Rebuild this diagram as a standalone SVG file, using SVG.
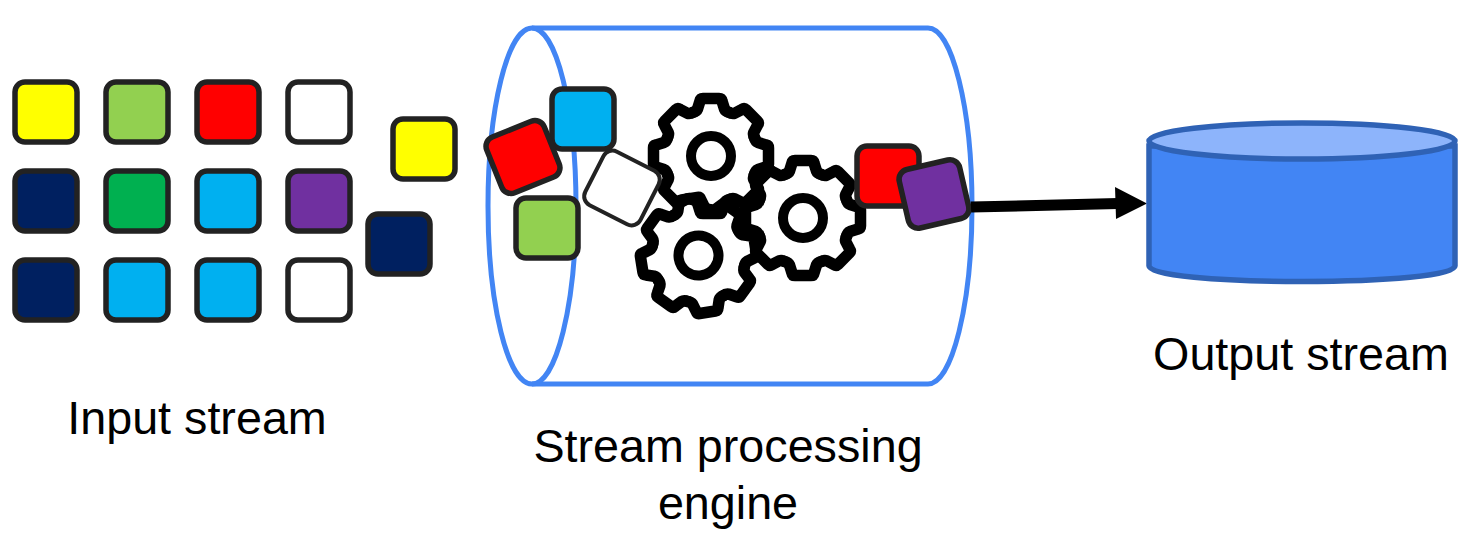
<svg xmlns="http://www.w3.org/2000/svg" xmlns:xlink="http://www.w3.org/1999/xlink" width="1465" height="557" viewBox="0 0 1465 557">
<style>
.sq{stroke:#222;stroke-width:5.500}
.t{font-family:"Liberation Sans",Arial,sans-serif;font-size:46.700px;fill:#000;text-anchor:middle}
.e{fill:none;stroke:#4285f4;stroke-width:5}
.g{fill:none;stroke:#000;stroke-width:11.500;stroke-linejoin:round;stroke-linecap:round}
</style>
<defs>
<rect id="s" x="-31" y="-30" width="62" height="60" rx="10"/>
<path id="tooth" d="M-18.500-43.500Q-14.500-44.500-13.500-47L-11-55Q-10.500-57.500-8-57.500H8Q10.500-57.500 11-55L13.500-47Q14.500-44.500 18.500-43.500"/>
<g id="gear">
<circle r="20" style="stroke-width:10"/>
<use xlink:href="#tooth"/><use xlink:href="#tooth" transform="rotate(45)"/><use xlink:href="#tooth" transform="rotate(90)"/><use xlink:href="#tooth" transform="rotate(135)"/><use xlink:href="#tooth" transform="rotate(180)"/><use xlink:href="#tooth" transform="rotate(225)"/><use xlink:href="#tooth" transform="rotate(270)"/><use xlink:href="#tooth" transform="rotate(315)"/>
</g>
</defs>
<g id="input-stream">
<use xlink:href="#s" class="sq" x="46" y="112" fill="#ffff00"/>
<use xlink:href="#s" class="sq" x="137" y="112" fill="#92d050"/>
<use xlink:href="#s" class="sq" x="228" y="112" fill="#ff0000"/>
<use xlink:href="#s" class="sq" x="319" y="112" fill="#ffffff"/>
<use xlink:href="#s" class="sq" x="46" y="201" fill="#002060"/>
<use xlink:href="#s" class="sq" x="137" y="201" fill="#00b050"/>
<use xlink:href="#s" class="sq" x="228" y="201" fill="#00b0f0"/>
<use xlink:href="#s" class="sq" x="319" y="201" fill="#7030a0"/>
<use xlink:href="#s" class="sq" x="46" y="290" fill="#002060"/>
<use xlink:href="#s" class="sq" x="137" y="290" fill="#00b0f0"/>
<use xlink:href="#s" class="sq" x="228" y="290" fill="#00b0f0"/>
<use xlink:href="#s" class="sq" x="319" y="290" fill="#ffffff"/>
<use xlink:href="#s" class="sq" x="424" y="149" fill="#ffff00"/>
<use xlink:href="#s" class="sq" x="399" y="244" fill="#002060"/>
</g>
<g id="engine">
<path class="e" d="M532 28H928C952 28 972 108 972 206S952 384 928 384H532"/>
<ellipse class="e" cx="532" cy="206" rx="44" ry="178"/>
</g>
<g id="gears">
<use xlink:href="#gear" class="g" transform="translate(711 156)"/>
<use xlink:href="#gear" class="g" transform="translate(803 218)"/>
<use xlink:href="#gear" class="g" transform="translate(698.500 255.500) rotate(-9)"/>
</g>
<g id="moving-items">
<use xlink:href="#s" class="sq" x="583" y="119" fill="#00b0f0"/>
<use xlink:href="#s" class="sq" x="547" y="228" fill="#92d050"/>
<use xlink:href="#s" class="sq" transform="translate(523 157) rotate(-22)" fill="#ff0000"/>
<use xlink:href="#s" class="sq" style="stroke-width:4" transform="translate(622 188) rotate(27)" fill="#ffffff"/>
<use xlink:href="#s" class="sq" x="888" y="176" fill="#ff0000"/>
<use xlink:href="#s" class="sq" transform="translate(934 194) rotate(-13)" fill="#7030a0"/>
</g>
<g id="connectors">
<path d="M971 207L1118 203.500" fill="none" stroke="#000" stroke-width="11"/>
<path d="M1115 187L1147 203.500L1116 219Z" fill="#000"/>
</g>
<g id="output-store">
<path d="M1149 146V266C1149 275.500 1218 281.500 1302 281.500S1455 275.500 1455 266V146Z" fill="#4285f4" stroke="#2f62b5" stroke-width="5.500"/>
<ellipse cx="1302" cy="141" rx="153" ry="18" fill="#8db4fb" stroke="#2f62b5" stroke-width="5.500"/>
</g>
<g id="labels">
<text class="t" x="197" y="434">Input stream</text>
<text class="t" x="728" y="462">Stream processing</text>
<text class="t" x="728" y="519">engine</text>
<text class="t" x="1301" y="370">Output stream</text>
</g>
</svg>
